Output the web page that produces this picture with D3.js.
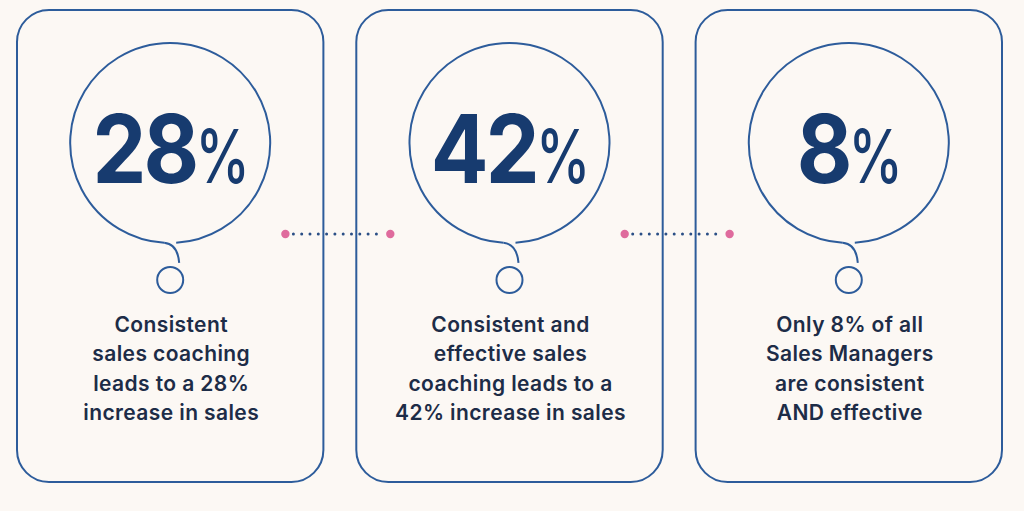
<!DOCTYPE html>
<html>
<head>
<meta charset="utf-8">
<script src="https://cdn.jsdelivr.net/npm/d3@7"></script>
<style>
  html, body { margin: 0; padding: 0; background: #fcf8f4; }
  svg { display: block; }
</style>
</head>
<body>
<div id="chart"></div>
<script>
// stat cards
const categories = ["consistent", "effective", "managers"];
const values = [28, 42, 8];
const captions = [
  ["Consistent", "sales coaching", "leads to a 28%", "increase in sales"],
  ["Consistent and", "effective sales", "coaching leads to a", "42% increase in sales"],
  ["Only 8% of all", "Sales Managers", "are consistent", "AND effective"]
];
// connectors between neighbouring cards
const links = [["consistent", "effective"], ["effective", "managers"]];

const width = 1024;
const height = 511;

const navy = "#173b6f";
const stroke = "#2d5c9b";
const textColor = "#1d2c47";
const pink = "#df6b9d";
const font = "Inter, 'Noto Sans', sans-serif";

const svg = d3.select("#chart")
  .append("svg")
  .attr("width", width)
  .attr("height", height);

svg.append("rect")
  .attr("width", width)
  .attr("height", height)
  .attr("fill", "#fcf8f4");

const x = d3.scaleBand()
  .domain(categories)
  .range([17, 1002])
  .paddingInner(0.097);

const cardTop = 10, cardBottom = 482;
const cy = 143, r = 100;

const cards = svg.selectAll(".card")
  .data(categories.map((c, i) => ({ key: c, value: values[i], lines: captions[i] })))
  .enter()
  .append("g")
  .attr("class", "card")
  .attr("transform", d => `translate(${x(d.key)},0)`);

cards.append("rect")
  .attr("x", 0)
  .attr("y", cardTop)
  .attr("width", x.bandwidth())
  .attr("height", cardBottom - cardTop)
  .attr("rx", 32)
  .attr("fill", "none")
  .attr("stroke", stroke)
  .attr("stroke-width", 2);

// bubble: big circle with a gap at the bottom, curly tail, small circle
const bubble = cards.append("g")
  .attr("transform", `translate(${x.bandwidth() / 2},0)`);

const gap = 0.06;
const arc = d3.arc()
  .innerRadius(r)
  .outerRadius(r)
  .startAngle(Math.PI + gap)
  .endAngle(3 * Math.PI - gap);

bubble.append("path")
  .attr("d", arc())
  .attr("transform", `translate(0,${cy})`)
  .attr("fill", "none")
  .attr("stroke", stroke)
  .attr("stroke-width", 2);

bubble.append("path")
  .attr("d", () => {
    const p = d3.path();
    const sx = -Math.sin(gap) * r, sy = cy + Math.cos(gap) * r;
    p.moveTo(sx, sy);
    p.bezierCurveTo(sx + 10, sy + 1, 8, sy + 8, 9, sy + 20);
    return p.toString();
  })
  .attr("fill", "none")
  .attr("stroke", stroke)
  .attr("stroke-width", 2);

bubble.append("circle")
  .attr("cx", 0)
  .attr("cy", cy + 137)
  .attr("r", 13)
  .attr("fill", "none")
  .attr("stroke", stroke)
  .attr("stroke-width", 2);

// big number, % sign narrower and lighter
const digitScale = 0.9, pctScale = 0.74, space = -1;
bubble.each(function(d) {
  const g = d3.select(this);
  const digits = g.append("text")
    .attr("fill", navy)
    .style("font-family", font)
    .attr("font-size", 95)
    .attr("font-weight", 700)
    .attr("letter-spacing", -3)
    .text(d.value);
  const pct = g.append("text")
    .attr("fill", navy)
    .style("font-family", font)
    .attr("font-size", 74)
    .attr("font-weight", 500)
    .text("%");
  const wd = digits.node().getComputedTextLength() * digitScale;
  const wp = pct.node().getComputedTextLength() * pctScale;
  const left = -(wd + space + wp) / 2 + 1;
  digits.attr("transform", `translate(${left},${cy + 40}) scale(${digitScale},1)`);
  pct.attr("transform", `translate(${left + wd + space},${cy + 40}) scale(${pctScale},1)`);
});

cards.append("text")
  .attr("text-anchor", "middle")
  .attr("fill", textColor)
  .style("font-family", font)
  .attr("font-size", 21)
  .attr("font-weight", 600)
  .attr("letter-spacing", 0.4)
  .selectAll("tspan")
  .data(d => d.lines)
  .enter()
  .append("tspan")
  .attr("x", x.bandwidth() / 2 + 1)
  .attr("y", (d, i) => 332 + i * 29.3)
  .text(d => d);

// dotted connectors
const linkY = 234;
const insetL = 38, insetR = 34;
const conn = svg.selectAll(".link")
  .data(links)
  .enter()
  .append("g")
  .attr("class", "link");

conn.append("line")
  .attr("x1", d => x(d[0]) + x.bandwidth() - insetL + 8)
  .attr("x2", d => x(d[1]) + insetR - 6)
  .attr("y1", linkY)
  .attr("y2", linkY)
  .attr("stroke", "#2b4f86")
  .attr("stroke-width", 3)
  .attr("stroke-linecap", "round")
  .attr("stroke-dasharray", "0,8.3");

conn.selectAll("circle")
  .data(d => [x(d[0]) + x.bandwidth() - insetL, x(d[1]) + insetR])
  .enter()
  .append("circle")
  .attr("cx", d => d)
  .attr("cy", linkY)
  .attr("r", 4.2)
  .attr("fill", pink);
</script>
</body>
</html>
